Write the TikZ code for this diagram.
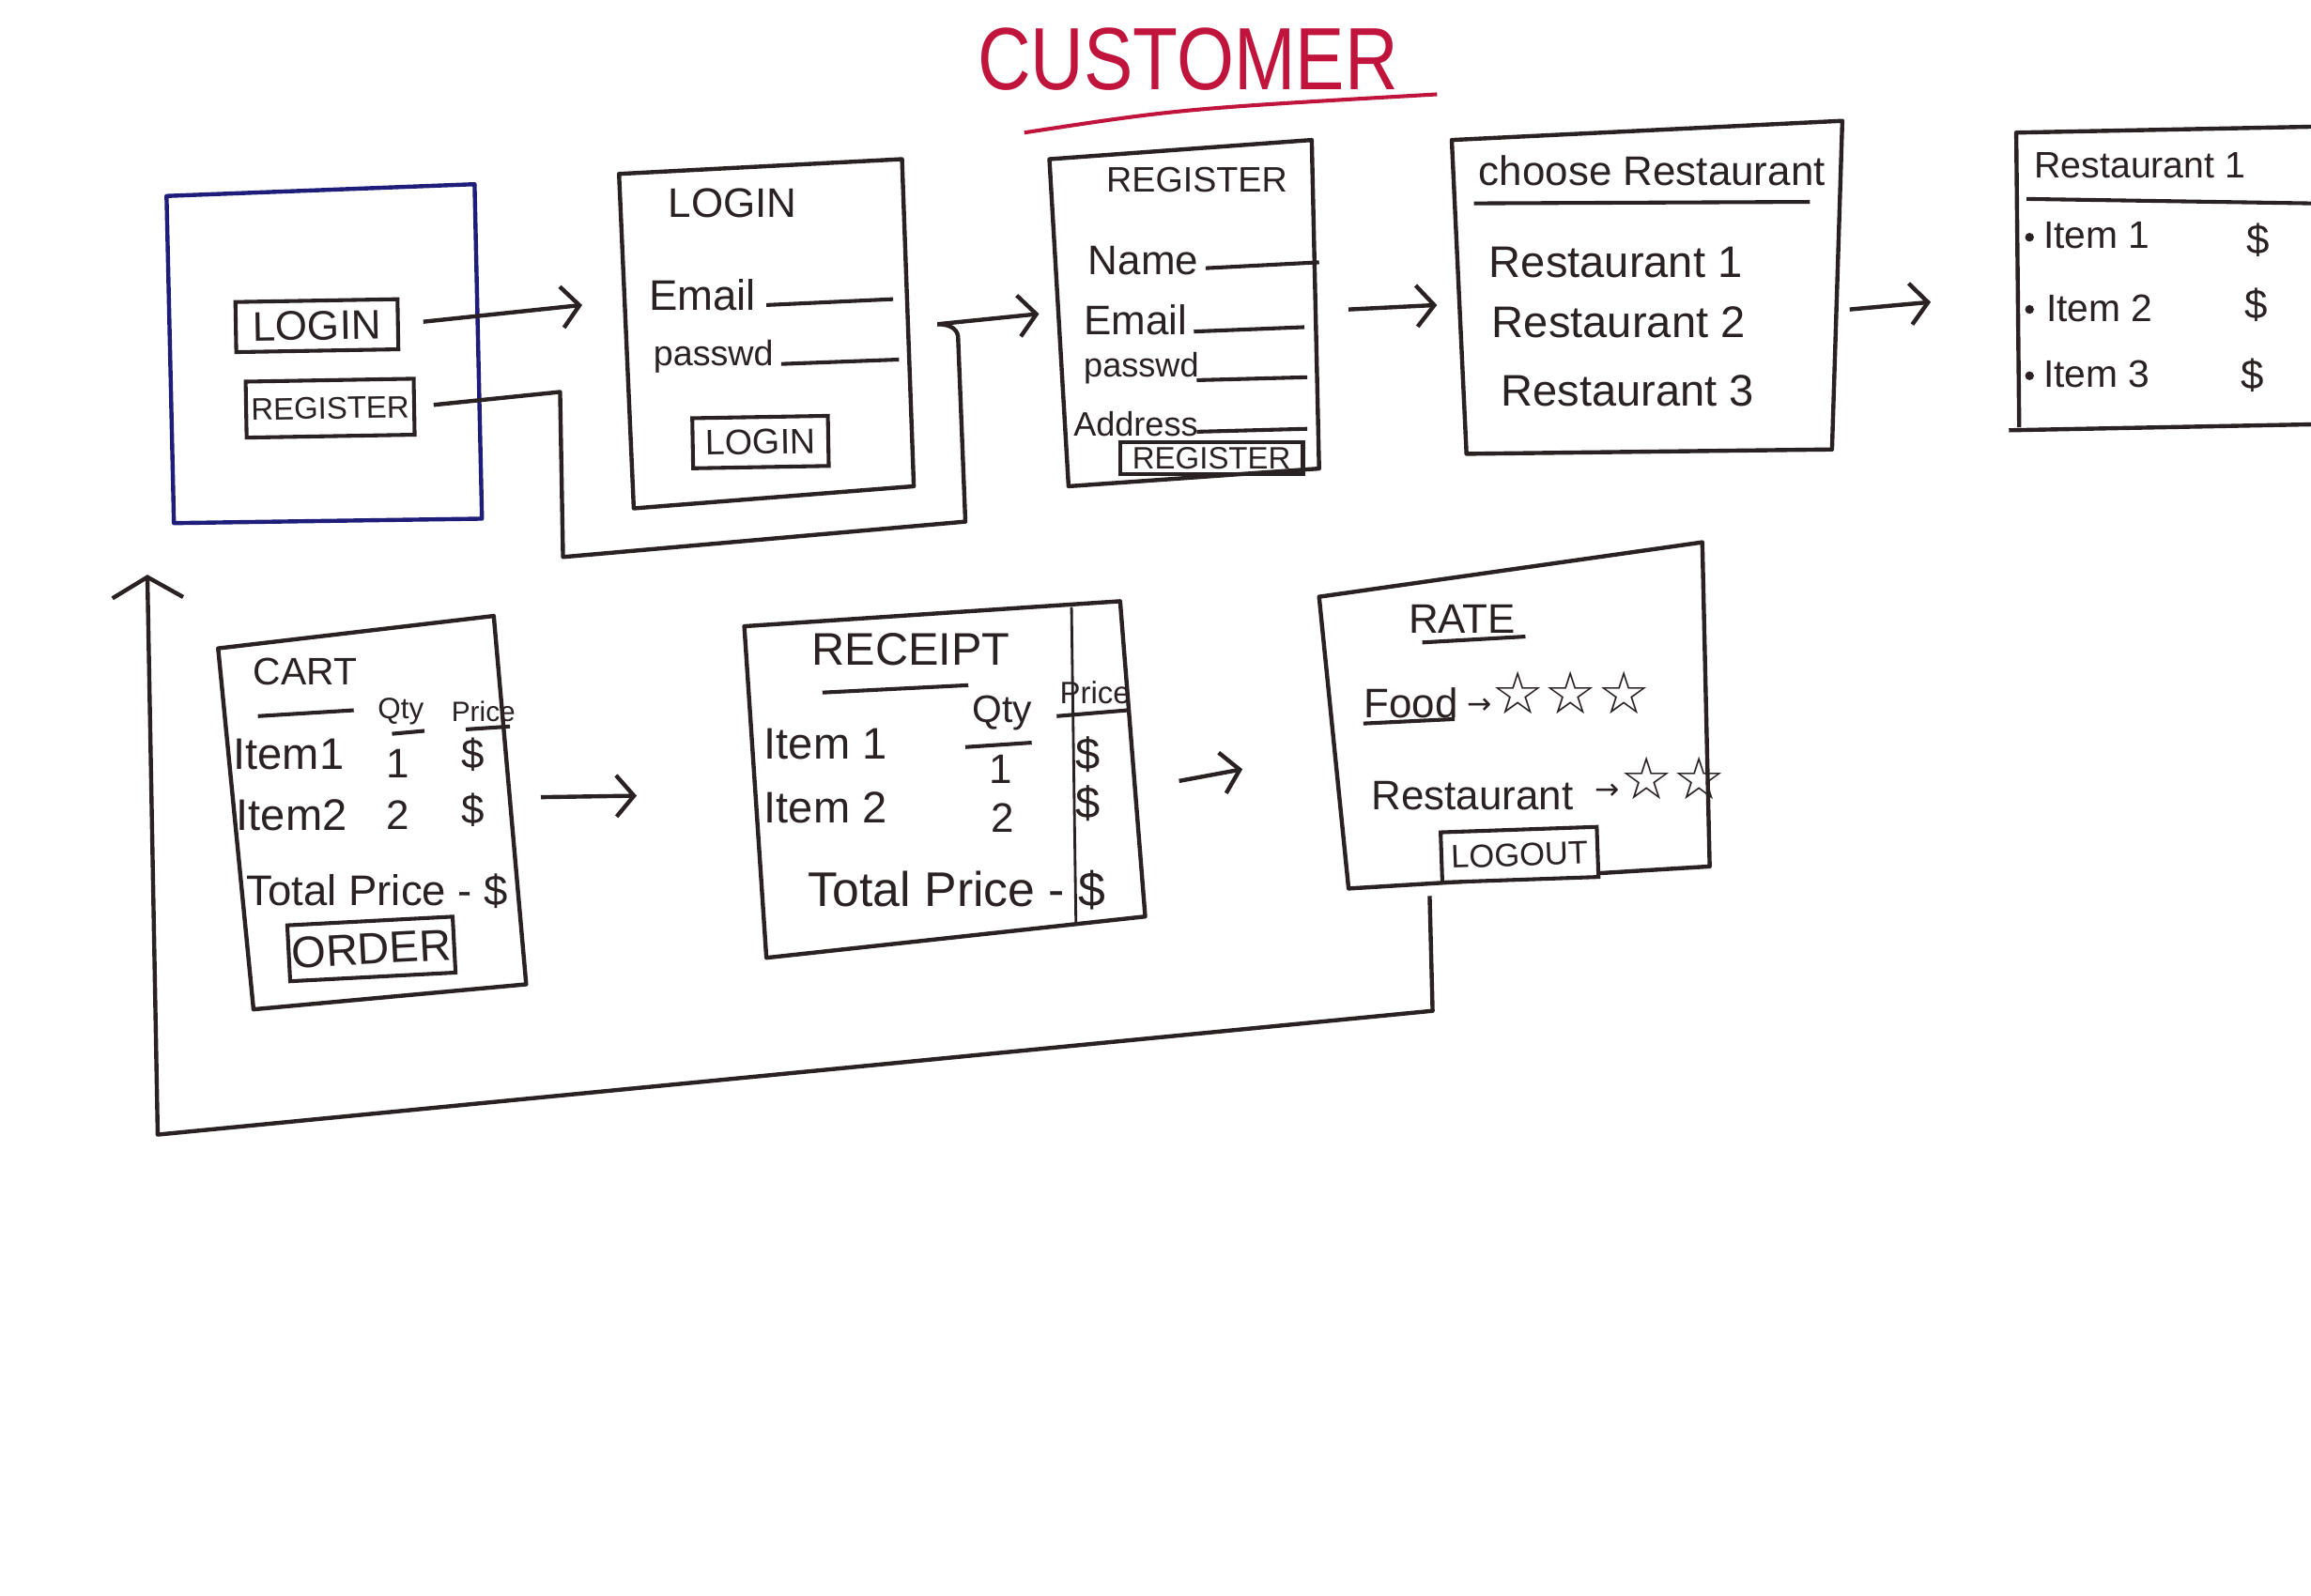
\documentclass[tikz,border=0pt]{standalone}
\usepackage{fontspec}
\setmainfont{Liberation Sans}
\newfontfamily\symfont{DejaVu Sans}
\usetikzlibrary{arrows.meta,calc}
\definecolor{ink}{HTML}{2A2222}
\definecolor{navy}{HTML}{1E1E7A}
\definecolor{redink}{HTML}{C0143C}
\newcommand{\fs}[1]{\fontsize{#1}{#1}\selectfont}
\begin{document}
\begin{tikzpicture}[x=0.5pt,y=-0.5pt,
  box/.style={draw=ink, line width=1.4pt, line join=round},
  btn/.style={draw=ink, line width=1.3pt, inner sep=1pt, text=ink},
  lbl/.style={text=ink, inner sep=0pt, anchor=west},
  clbl/.style={text=ink, inner sep=0pt},
  fld/.style={draw=ink, line width=1.3pt},
  arr/.style={draw=ink, line width=1.4pt, -{Straight Barb[length=6pt,width=14pt]}},
  conn/.style={draw=ink, line width=1.4pt, line join=round},
]
\fill[white] (0,0) rectangle (1568,1083);
\useasboundingbox (0,0) rectangle (1568,1083);

% title
\node[text=redink, inner sep=0pt, font=\fs{25}] (title) at (806,40) {\scalebox{1}[1.2]{CUSTOMER}};
\draw[redink, line width=1.3pt] (695,90) .. controls (800,74) .. (975,64);

% screen 1 (start)
\draw[box, draw=navy] (113,133) -- (322,125) -- (327,352) -- (118,355) -- cycle;
\node[btn, minimum width=55pt, minimum height=17pt, font=\fs{14}, rotate=1] (b1login) at (215,221) {LOGIN};
\node[btn, minimum width=57pt, minimum height=19pt, font=\fs{10.5}, rotate=1] (b1reg) at (224,277) {REGISTER};

% screen 2 (login)
\draw[box] (420,118) -- (612,108) -- (620,330) -- (430,345) -- cycle;
\node[clbl, font=\fs{14}] (s2title) at (497,138) {LOGIN};
\node[lbl, font=\fs{14.5}] (s2email) at (440,200) {Email};
\draw[fld] (520,207) -- (606,203);
\node[lbl, font=\fs{12}] (s2pass) at (443,242) {passwd};
\draw[fld] (530,247) -- (610,244);
\node[btn, minimum width=46pt, minimum height=17pt, font=\fs{12}, rotate=1] (s2btn) at (516,300) {LOGIN};

% screen 3 (register)
\draw[box] (712,108) -- (890,95) -- (895,318) -- (725,330) -- cycle;
\node[clbl, font=\fs{12}] (s3title) at (812,122) {REGISTER};
\node[lbl, font=\fs{14}] (s3name) at (738,177) {Name};
\draw[fld] (818,182) -- (895,178);
\node[lbl, font=\fs{14}] (s3email) at (735,217) {Email};
\draw[fld] (810,225) -- (885,222);
\node[lbl, font=\fs{11.5}] (s3pass) at (735,250) {passwd};
\draw[fld] (812,258) -- (887,256);
\node[lbl, font=\fs{11.5}] (s3addr) at (728,288) {Address};
\draw[fld] (812,293) -- (887,291);
\node[btn, minimum width=62pt, minimum height=11pt, font=\fs{10.5}] (s3btn) at (822,311) {REGISTER};

% screen 4 (choose restaurant)
\draw[box] (985,95) -- (1250,82) -- (1243,305) -- (995,308) -- cycle;
\node[lbl, font=\fs{14}] (s4title) at (1003,116) {choose Restaurant};
\draw[fld] (1000,138) -- (1228,137);
\node[lbl, font=\fs{15}] (s4r1) at (1010,178) {Restaurant 1};
\node[lbl, font=\fs{15}] (s4r2) at (1012,219) {Restaurant 2};
\node[lbl, font=\fs{15}] (s4r3) at (1018,265) {Restaurant 3};

% screen 5 (restaurant menu)
\draw[box] (1568,86) -- (1368,90) -- (1370,290);
\draw[box] (1363,292) -- (1568,288);
\node[lbl, font=\fs{12.5}] (s5title) at (1380,112) {Restaurant 1};
\draw[fld] (1375,135) -- (1568,138);
\fill[ink] (1377,161) circle (3);
\fill[ink] (1377,210) circle (3);
\fill[ink] (1377,255) circle (3);
\node[lbl, font=\fs{13}] (s5i1) at (1386,160) {Item 1};
\node[lbl, font=\fs{13}] (s5i2) at (1388,209) {Item 2};
\node[lbl, font=\fs{13}] (s5i3) at (1386,254) {Item 3};
\node[clbl, font=\fs{14}] (s5p1) at (1532,163) {\$};
\node[clbl, font=\fs{14}] (s5p2) at (1531,207) {\$};
\node[clbl, font=\fs{14}] (s5p3) at (1528,255) {\$};

% screen 6 (cart)
\draw[box] (148,440) -- (335,418) -- (357,668) -- (172,685) -- cycle;
\node[clbl, font=\fs{13}] (s6title) at (207,456) {CART};
\draw[fld] (175,486) -- (240,482);
\node[clbl, font=\fs{10}] (s6qty) at (272,483) {Qty};
\draw[fld] (266,498) -- (288,496);
\node[clbl, font=\fs{9.5}] (s6price) at (328,483) {Price};
\draw[fld] (316,495) -- (346,493);
\node[lbl, font=\fs{15}] (s6i1) at (158,512) {Item1};
\node[clbl, font=\fs{14}] (s6q1) at (270,518) {1};
\node[clbl, font=\fs{14}] (s6p1) at (321,512) {\$};
\node[lbl, font=\fs{15}] (s6i2) at (160,553) {Item2};
\node[clbl, font=\fs{14}] (s6q2) at (270,553) {2};
\node[clbl, font=\fs{14}] (s6p2) at (321,550) {\$};
\node[lbl, font=\fs{14.5}] (s6tot) at (167,605) {Total Price - \$};
\node[btn, minimum width=55pt, minimum height=19pt, font=\fs{15}, rotate=3] (s6btn) at (252,644) {ORDER};

% screen 7 (receipt)
\draw[box] (505,425) -- (760,408) -- (777,622) -- (520,650) -- cycle;
\draw[ink, line width=0.9pt] (727,412) -- (730,626);
\node[clbl, font=\fs{15.5}] (s7title) at (618,441) {RECEIPT};
\draw[fld] (558,470) -- (657,465);
\node[clbl, font=\fs{13}] (s7qty) at (680,484) {Qty};
\draw[fld] (655,507) -- (700,504);
\node[clbl, font=\fs{10.5}] (s7price) at (743,470) {Price};
\draw[fld] (717,486) -- (765,482);
\node[lbl, font=\fs{15}] (s7i1) at (518,505) {Item 1};
\node[clbl, font=\fs{14}] (s7q1) at (679,522) {1};
\node[clbl, font=\fs{15}] (s7p1) at (738,512) {\$};
\node[lbl, font=\fs{15}] (s7i2) at (518,548) {Item 2};
\node[clbl, font=\fs{14}] (s7q2) at (680,555) {2};
\node[clbl, font=\fs{15}] (s7p2) at (738,545) {\$};
\node[lbl, font=\fs{16.5}] (s7tot) at (548,604) {Total Price - \$};

% screen 8 (rate)
\draw[box] (895,405) -- (1155,368) -- (1160,588) -- (915,603) -- cycle;
\node[clbl, font=\fs{14}] (s8title) at (992,420) {RATE};
\draw[fld] (965,436) -- (1035,432);
\node[lbl, font=\fs{14}] (s8food) at (925,477) {Food};
\draw[fld] (925,491) -- (987,488);
\node[lbl, text=ink, font=\symfont] (s8fstars) at (995,470) {\fs{10}→\fs{20}☆☆☆};
\node[lbl, font=\fs{14}] (s8rest) at (930,540) {Restaurant};
\node[lbl, text=ink, font=\symfont] (s8rstars) at (1082,528) {\fs{10}→\fs{20}☆☆};
\node[btn, fill=white, minimum width=53pt, minimum height=17pt, font=\fs{11}, rotate=2] (s8btn) at (1031,580) {LOGOUT};

% connectors
\coordinate (a1end) at (395,207);
\draw[arr, shorten <=8pt] (b1login.east) -- (a1end);

\coordinate (r1) at (380,266);
\coordinate (r2) at (382,378);
\coordinate (r3) at (655,354);
\coordinate (r4) at (650,228);
\coordinate (r5) at (636,220);
\coordinate (r6) at (705,213);
\draw[conn, shorten <=6pt] (b1reg.east) -- (r1) -- (r2) -- (r3) -- (r4) to[out=100,in=0] (r5);
\draw[arr] (r5) -- (r6);

\coordinate (a3s) at (915,210);
\coordinate (a3e) at (975,207);
\draw[arr] (a3s) -- (a3e);

\coordinate (a4s) at (1255,210);
\coordinate (a4e) at (1310,205);
\draw[arr] (a4s) -- (a4e);

\coordinate (a6s) at (367,541);
\coordinate (a6e) at (432,540);
\draw[arr] (a6s) -- (a6e);

\coordinate (a7s) at (800,530);
\coordinate (a7e) at (843,522);
\draw[arr] (a7s) -- (a7e);

\coordinate (b1) at (970,608);
\coordinate (b2) at (972,686);
\coordinate (b3) at (107,770);
\coordinate (b4) at (100,390);
\draw[conn, -{Straight Barb[length=7pt,width=24pt]}] (b1) -- (b2) -- (b3) -- (b4);
\end{tikzpicture}
\end{document}
